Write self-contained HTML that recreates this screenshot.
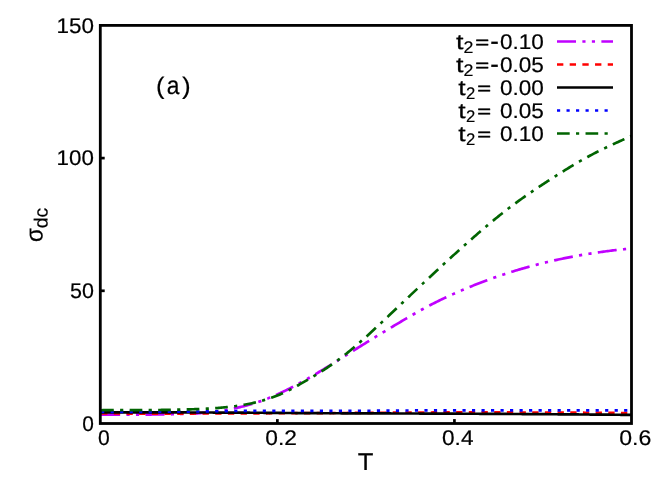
<!DOCTYPE html>
<html><head><meta charset="utf-8"><title>sigma_dc vs T</title>
<style>html,body{margin:0;padding:0;background:#fff;}svg{display:block;}svg text{text-rendering:geometricPrecision;}svg{will-change:transform;opacity:0.9999;}text{font-family:"Liberation Sans",sans-serif;fill:#000;stroke:#000;stroke-width:0.2px;vector-effect:non-scaling-stroke;stroke-linejoin:round;}text.eq{stroke-width:0.55px;}</style></head><body>
<svg width="664" height="498" viewBox="0 0 664 498">
<rect width="664" height="498" fill="#fff"/>
<g fill="none" stroke-width="2.67" stroke-linecap="butt" stroke-linejoin="round" stroke-dashoffset="-0.8">
<path d="M100.30,414.62 L101.63,414.61 L102.96,414.60 L104.29,414.60 L105.63,414.59 L106.96,414.58 L108.29,414.58 L109.62,414.58 L110.95,414.57 L112.28,414.57 L113.61,414.57 L114.94,414.57 L116.28,414.57 L117.61,414.57 L118.94,414.57 L120.27,414.57 L121.60,414.57 L122.93,414.57 L124.26,414.57 L125.60,414.57 L126.93,414.57 L128.26,414.58 L129.59,414.58 L130.92,414.58 L132.25,414.58 L133.58,414.58 L134.91,414.58 L136.25,414.58 L137.58,414.58 L138.91,414.58 L140.24,414.58 L141.57,414.58 L142.90,414.58 L144.23,414.57 L145.57,414.57 L146.90,414.57 L148.23,414.56 L149.56,414.56 L150.89,414.55 L152.22,414.54 L153.55,414.53 L154.88,414.52 L156.22,414.51 L157.55,414.50 L158.88,414.49 L160.21,414.48 L161.54,414.46 L162.87,414.44 L164.20,414.43 L165.54,414.41 L166.87,414.38 L168.20,414.36 L169.53,414.34 L170.86,414.31 L172.19,414.28 L173.52,414.25 L174.85,414.22 L176.19,414.19 L177.52,414.16 L178.85,414.12 L180.18,414.08 L181.51,414.04 L182.84,413.99 L184.17,413.95 L185.51,413.90 L186.84,413.85 L188.17,413.79 L189.50,413.73 L190.83,413.67 L192.16,413.61 L193.49,413.54 L194.82,413.46 L196.16,413.38 L197.49,413.30 L198.82,413.21 L200.15,413.12 L201.48,413.02 L202.81,412.91 L204.14,412.80 L205.47,412.69 L206.81,412.56 L208.14,412.44 L209.47,412.30 L210.80,412.16 L212.13,412.01 L213.46,411.85 L214.79,411.68 L216.13,411.51 L217.46,411.33 L218.79,411.14 L220.12,410.95 L221.45,410.74 L222.78,410.53 L224.11,410.31 L225.44,410.09 L226.78,409.85 L228.11,409.61 L229.44,409.36 L230.77,409.11 L232.10,408.84 L233.43,408.57 L234.76,408.30 L236.10,408.01 L237.43,407.72 L238.76,407.42 L240.09,407.11 L241.42,406.80 L242.75,406.47 L244.08,406.14 L245.41,405.80 L246.75,405.45 L248.08,405.08 L249.41,404.71 L250.74,404.33 L252.07,403.94 L253.40,403.54 L254.73,403.13 L256.07,402.70 L257.40,402.27 L258.73,401.82 L260.06,401.37 L261.39,400.90 L262.72,400.41 L264.05,399.92 L265.38,399.42 L266.72,398.90 L268.05,398.37 L269.38,397.83 L270.71,397.29 L272.04,396.73 L273.37,396.16 L274.70,395.58 L276.04,394.99 L277.37,394.39 L278.70,393.79 L280.03,393.17 L281.36,392.55 L282.69,391.91 L284.02,391.27 L285.35,390.62 L286.69,389.97 L288.02,389.30 L289.35,388.63 L290.68,387.95 L292.01,387.26 L293.34,386.57 L294.67,385.87 L296.01,385.16 L297.34,384.45 L298.67,383.73 L300.00,383.00 L301.33,382.27 L302.66,381.53 L303.99,380.78 L305.32,380.03 L306.66,379.28 L307.99,378.52 L309.32,377.75 L310.65,376.98 L311.98,376.21 L313.31,375.43 L314.64,374.64 L315.98,373.86 L317.31,373.06 L318.64,372.27 L319.97,371.47 L321.30,370.67 L322.63,369.86 L323.96,369.05 L325.29,368.24 L326.63,367.42 L327.96,366.60 L329.29,365.78 L330.62,364.96 L331.95,364.13 L333.28,363.31 L334.61,362.48 L335.95,361.64 L337.28,360.81 L338.61,359.98 L339.94,359.14 L341.27,358.31 L342.60,357.47 L343.93,356.63 L345.26,355.79 L346.60,354.96 L347.93,354.12 L349.26,353.28 L350.59,352.44 L351.92,351.60 L353.25,350.76 L354.58,349.93 L355.92,349.09 L357.25,348.25 L358.58,347.42 L359.91,346.59 L361.24,345.75 L362.57,344.92 L363.90,344.10 L365.23,343.27 L366.57,342.44 L367.90,341.62 L369.23,340.80 L370.56,339.98 L371.89,339.16 L373.22,338.34 L374.55,337.53 L375.88,336.71 L377.22,335.90 L378.55,335.09 L379.88,334.28 L381.21,333.47 L382.54,332.66 L383.87,331.85 L385.20,331.05 L386.54,330.25 L387.87,329.44 L389.20,328.64 L390.53,327.84 L391.86,327.05 L393.19,326.25 L394.52,325.45 L395.85,324.66 L397.19,323.87 L398.52,323.08 L399.85,322.28 L401.18,321.50 L402.51,320.71 L403.84,319.92 L405.17,319.14 L406.51,318.36 L407.84,317.58 L409.17,316.80 L410.50,316.03 L411.83,315.26 L413.16,314.49 L414.49,313.73 L415.82,312.97 L417.16,312.22 L418.49,311.47 L419.82,310.73 L421.15,309.99 L422.48,309.26 L423.81,308.53 L425.14,307.81 L426.48,307.09 L427.81,306.38 L429.14,305.68 L430.47,304.99 L431.80,304.30 L433.13,303.62 L434.46,302.94 L435.79,302.27 L437.13,301.61 L438.46,300.96 L439.79,300.31 L441.12,299.67 L442.45,299.03 L443.78,298.40 L445.11,297.77 L446.45,297.15 L447.78,296.54 L449.11,295.93 L450.44,295.32 L451.77,294.72 L453.10,294.12 L454.43,293.52 L455.76,292.93 L457.10,292.35 L458.43,291.77 L459.76,291.19 L461.09,290.62 L462.42,290.05 L463.75,289.48 L465.08,288.92 L466.42,288.36 L467.75,287.81 L469.08,287.26 L470.41,286.71 L471.74,286.17 L473.07,285.63 L474.40,285.10 L475.73,284.57 L477.07,284.05 L478.40,283.53 L479.73,283.01 L481.06,282.50 L482.39,281.99 L483.72,281.48 L485.05,280.98 L486.39,280.49 L487.72,279.99 L489.05,279.51 L490.38,279.02 L491.71,278.54 L493.04,278.07 L494.37,277.59 L495.70,277.13 L497.04,276.66 L498.37,276.20 L499.70,275.75 L501.03,275.29 L502.36,274.85 L503.69,274.40 L505.02,273.96 L506.36,273.53 L507.69,273.10 L509.02,272.67 L510.35,272.25 L511.68,271.83 L513.01,271.41 L514.34,271.00 L515.67,270.59 L517.01,270.19 L518.34,269.79 L519.67,269.39 L521.00,269.00 L522.33,268.61 L523.66,268.23 L524.99,267.85 L526.33,267.47 L527.66,267.10 L528.99,266.73 L530.32,266.37 L531.65,266.00 L532.98,265.65 L534.31,265.29 L535.64,264.94 L536.98,264.60 L538.31,264.25 L539.64,263.92 L540.97,263.58 L542.30,263.25 L543.63,262.92 L544.96,262.60 L546.29,262.27 L547.63,261.96 L548.96,261.64 L550.29,261.33 L551.62,261.03 L552.95,260.72 L554.28,260.42 L555.61,260.13 L556.95,259.83 L558.28,259.55 L559.61,259.26 L560.94,258.98 L562.27,258.70 L563.60,258.42 L564.93,258.15 L566.26,257.88 L567.60,257.62 L568.93,257.35 L570.26,257.09 L571.59,256.84 L572.92,256.59 L574.25,256.34 L575.58,256.09 L576.92,255.85 L578.25,255.61 L579.58,255.37 L580.91,255.14 L582.24,254.91 L583.57,254.68 L584.90,254.46 L586.23,254.24 L587.57,254.02 L588.90,253.80 L590.23,253.59 L591.56,253.39 L592.89,253.18 L594.22,252.98 L595.55,252.78 L596.89,252.58 L598.22,252.39 L599.55,252.20 L600.88,252.01 L602.21,251.83 L603.54,251.64 L604.87,251.47 L606.20,251.29 L607.54,251.12 L608.87,250.95 L610.20,250.78 L611.53,250.61 L612.86,250.45 L614.19,250.29 L615.52,250.14 L616.86,249.98 L618.19,249.83 L619.52,249.69 L620.85,249.54 L622.18,249.40 L623.51,249.26 L624.84,249.12 L626.17,248.99 L627.51,248.85 L628.84,248.72 L630.17,248.60 L631.50,248.47" stroke="#c000ff" stroke-dasharray="19.020 6.340 3.170 6.340 3.170 6.340"/>
<path d="M100.30,413.50 L101.63,413.50 L102.96,413.50 L104.29,413.51 L105.63,413.51 L106.96,413.51 L108.29,413.51 L109.62,413.52 L110.95,413.52 L112.28,413.52 L113.61,413.52 L114.94,413.52 L116.28,413.52 L117.61,413.53 L118.94,413.53 L120.27,413.53 L121.60,413.53 L122.93,413.53 L124.26,413.53 L125.60,413.53 L126.93,413.54 L128.26,413.54 L129.59,413.54 L130.92,413.54 L132.25,413.54 L133.58,413.54 L134.91,413.54 L136.25,413.54 L137.58,413.54 L138.91,413.54 L140.24,413.54 L141.57,413.54 L142.90,413.54 L144.23,413.55 L145.57,413.55 L146.90,413.55 L148.23,413.55 L149.56,413.55 L150.89,413.55 L152.22,413.55 L153.55,413.55 L154.88,413.55 L156.22,413.55 L157.55,413.55 L158.88,413.55 L160.21,413.55 L161.54,413.55 L162.87,413.55 L164.20,413.55 L165.54,413.55 L166.87,413.55 L168.20,413.55 L169.53,413.55 L170.86,413.55 L172.19,413.55 L173.52,413.55 L174.85,413.55 L176.19,413.55 L177.52,413.55 L178.85,413.55 L180.18,413.55 L181.51,413.55 L182.84,413.55 L184.17,413.55 L185.51,413.55 L186.84,413.55 L188.17,413.55 L189.50,413.54 L190.83,413.54 L192.16,413.54 L193.49,413.54 L194.82,413.53 L196.16,413.53 L197.49,413.53 L198.82,413.53 L200.15,413.52 L201.48,413.52 L202.81,413.52 L204.14,413.51 L205.47,413.51 L206.81,413.50 L208.14,413.50 L209.47,413.50 L210.80,413.49 L212.13,413.49 L213.46,413.48 L214.79,413.48 L216.13,413.47 L217.46,413.47 L218.79,413.46 L220.12,413.46 L221.45,413.45 L222.78,413.45 L224.11,413.44 L225.44,413.44 L226.78,413.43 L228.11,413.43 L229.44,413.42 L230.77,413.42 L232.10,413.41 L233.43,413.41 L234.76,413.40 L236.10,413.40 L237.43,413.39 L238.76,413.39 L240.09,413.38 L241.42,413.38 L242.75,413.37 L244.08,413.37 L245.41,413.37 L246.75,413.36 L248.08,413.36 L249.41,413.35 L250.74,413.35 L252.07,413.34 L253.40,413.34 L254.73,413.33 L256.07,413.33 L257.40,413.33 L258.73,413.32 L260.06,413.32 L261.39,413.31 L262.72,413.31 L264.05,413.30 L265.38,413.30 L266.72,413.30 L268.05,413.29 L269.38,413.29 L270.71,413.28 L272.04,413.28 L273.37,413.27 L274.70,413.27 L276.04,413.26 L277.37,413.26 L278.70,413.26 L280.03,413.25 L281.36,413.25 L282.69,413.24 L284.02,413.24 L285.35,413.23 L286.69,413.23 L288.02,413.22 L289.35,413.22 L290.68,413.21 L292.01,413.21 L293.34,413.20 L294.67,413.20 L296.01,413.19 L297.34,413.19 L298.67,413.18 L300.00,413.18 L301.33,413.17 L302.66,413.17 L303.99,413.16 L305.32,413.16 L306.66,413.15 L307.99,413.15 L309.32,413.14 L310.65,413.14 L311.98,413.13 L313.31,413.13 L314.64,413.12 L315.98,413.12 L317.31,413.11 L318.64,413.11 L319.97,413.10 L321.30,413.09 L322.63,413.09 L323.96,413.08 L325.29,413.08 L326.63,413.07 L327.96,413.06 L329.29,413.06 L330.62,413.05 L331.95,413.04 L333.28,413.04 L334.61,413.03 L335.95,413.02 L337.28,413.02 L338.61,413.01 L339.94,413.00 L341.27,412.99 L342.60,412.99 L343.93,412.98 L345.26,412.97 L346.60,412.96 L347.93,412.95 L349.26,412.95 L350.59,412.94 L351.92,412.93 L353.25,412.92 L354.58,412.91 L355.92,412.90 L357.25,412.90 L358.58,412.89 L359.91,412.88 L361.24,412.87 L362.57,412.86 L363.90,412.85 L365.23,412.84 L366.57,412.83 L367.90,412.83 L369.23,412.82 L370.56,412.81 L371.89,412.80 L373.22,412.79 L374.55,412.78 L375.88,412.77 L377.22,412.76 L378.55,412.75 L379.88,412.75 L381.21,412.74 L382.54,412.73 L383.87,412.72 L385.20,412.71 L386.54,412.70 L387.87,412.69 L389.20,412.68 L390.53,412.67 L391.86,412.67 L393.19,412.66 L394.52,412.65 L395.85,412.64 L397.19,412.63 L398.52,412.62 L399.85,412.62 L401.18,412.61 L402.51,412.60 L403.84,412.59 L405.17,412.58 L406.51,412.58 L407.84,412.57 L409.17,412.56 L410.50,412.55 L411.83,412.55 L413.16,412.54 L414.49,412.53 L415.82,412.53 L417.16,412.52 L418.49,412.51 L419.82,412.51 L421.15,412.50 L422.48,412.49 L423.81,412.49 L425.14,412.48 L426.48,412.48 L427.81,412.47 L429.14,412.47 L430.47,412.46 L431.80,412.46 L433.13,412.45 L434.46,412.45 L435.79,412.44 L437.13,412.44 L438.46,412.43 L439.79,412.43 L441.12,412.43 L442.45,412.42 L443.78,412.42 L445.11,412.42 L446.45,412.41 L447.78,412.41 L449.11,412.41 L450.44,412.41 L451.77,412.41 L453.10,412.40 L454.43,412.40 L455.76,412.40 L457.10,412.40 L458.43,412.40 L459.76,412.40 L461.09,412.40 L462.42,412.40 L463.75,412.40 L465.08,412.40 L466.42,412.40 L467.75,412.40 L469.08,412.40 L470.41,412.40 L471.74,412.40 L473.07,412.40 L474.40,412.40 L475.73,412.40 L477.07,412.41 L478.40,412.41 L479.73,412.41 L481.06,412.41 L482.39,412.41 L483.72,412.41 L485.05,412.41 L486.39,412.41 L487.72,412.41 L489.05,412.42 L490.38,412.42 L491.71,412.42 L493.04,412.42 L494.37,412.42 L495.70,412.42 L497.04,412.43 L498.37,412.43 L499.70,412.43 L501.03,412.43 L502.36,412.43 L503.69,412.43 L505.02,412.44 L506.36,412.44 L507.69,412.44 L509.02,412.44 L510.35,412.44 L511.68,412.45 L513.01,412.45 L514.34,412.45 L515.67,412.45 L517.01,412.46 L518.34,412.46 L519.67,412.46 L521.00,412.46 L522.33,412.47 L523.66,412.47 L524.99,412.47 L526.33,412.47 L527.66,412.48 L528.99,412.48 L530.32,412.48 L531.65,412.48 L532.98,412.49 L534.31,412.49 L535.64,412.49 L536.98,412.49 L538.31,412.50 L539.64,412.50 L540.97,412.50 L542.30,412.51 L543.63,412.51 L544.96,412.51 L546.29,412.52 L547.63,412.52 L548.96,412.52 L550.29,412.53 L551.62,412.53 L552.95,412.54 L554.28,412.54 L555.61,412.55 L556.95,412.55 L558.28,412.56 L559.61,412.56 L560.94,412.57 L562.27,412.58 L563.60,412.58 L564.93,412.59 L566.26,412.60 L567.60,412.60 L568.93,412.61 L570.26,412.62 L571.59,412.63 L572.92,412.63 L574.25,412.64 L575.58,412.65 L576.92,412.66 L578.25,412.67 L579.58,412.67 L580.91,412.68 L582.24,412.69 L583.57,412.70 L584.90,412.71 L586.23,412.72 L587.57,412.73 L588.90,412.74 L590.23,412.75 L591.56,412.76 L592.89,412.77 L594.22,412.78 L595.55,412.79 L596.89,412.80 L598.22,412.81 L599.55,412.82 L600.88,412.83 L602.21,412.84 L603.54,412.85 L604.87,412.86 L606.20,412.87 L607.54,412.89 L608.87,412.90 L610.20,412.91 L611.53,412.92 L612.86,412.93 L614.19,412.94 L615.52,412.95 L616.86,412.97 L618.19,412.98 L619.52,412.99 L620.85,413.00 L622.18,413.01 L623.51,413.03 L624.84,413.04 L626.17,413.05 L627.51,413.06 L628.84,413.08 L630.17,413.09 L631.50,413.10" stroke="#ff0000" stroke-dasharray="6.340 6.340"/>
<path d="M100.30,412.30 L101.63,412.30 L102.96,412.30 L104.29,412.30 L105.63,412.30 L106.96,412.30 L108.29,412.30 L109.62,412.30 L110.95,412.30 L112.28,412.30 L113.61,412.30 L114.94,412.31 L116.28,412.31 L117.61,412.31 L118.94,412.31 L120.27,412.31 L121.60,412.31 L122.93,412.31 L124.26,412.31 L125.60,412.32 L126.93,412.32 L128.26,412.32 L129.59,412.32 L130.92,412.32 L132.25,412.32 L133.58,412.33 L134.91,412.33 L136.25,412.33 L137.58,412.33 L138.91,412.34 L140.24,412.34 L141.57,412.34 L142.90,412.34 L144.23,412.35 L145.57,412.35 L146.90,412.35 L148.23,412.35 L149.56,412.36 L150.89,412.36 L152.22,412.36 L153.55,412.36 L154.88,412.37 L156.22,412.37 L157.55,412.37 L158.88,412.38 L160.21,412.38 L161.54,412.38 L162.87,412.39 L164.20,412.39 L165.54,412.39 L166.87,412.40 L168.20,412.40 L169.53,412.40 L170.86,412.41 L172.19,412.41 L173.52,412.42 L174.85,412.42 L176.19,412.42 L177.52,412.43 L178.85,412.43 L180.18,412.43 L181.51,412.44 L182.84,412.44 L184.17,412.45 L185.51,412.45 L186.84,412.45 L188.17,412.46 L189.50,412.46 L190.83,412.47 L192.16,412.47 L193.49,412.48 L194.82,412.48 L196.16,412.48 L197.49,412.49 L198.82,412.49 L200.15,412.50 L201.48,412.50 L202.81,412.51 L204.14,412.51 L205.47,412.51 L206.81,412.52 L208.14,412.52 L209.47,412.53 L210.80,412.53 L212.13,412.54 L213.46,412.54 L214.79,412.55 L216.13,412.55 L217.46,412.56 L218.79,412.56 L220.12,412.57 L221.45,412.57 L222.78,412.57 L224.11,412.58 L225.44,412.58 L226.78,412.59 L228.11,412.59 L229.44,412.60 L230.77,412.60 L232.10,412.61 L233.43,412.61 L234.76,412.62 L236.10,412.62 L237.43,412.63 L238.76,412.64 L240.09,412.64 L241.42,412.65 L242.75,412.66 L244.08,412.67 L245.41,412.67 L246.75,412.68 L248.08,412.69 L249.41,412.70 L250.74,412.71 L252.07,412.72 L253.40,412.72 L254.73,412.73 L256.07,412.74 L257.40,412.75 L258.73,412.76 L260.06,412.77 L261.39,412.78 L262.72,412.79 L264.05,412.80 L265.38,412.81 L266.72,412.82 L268.05,412.83 L269.38,412.84 L270.71,412.85 L272.04,412.86 L273.37,412.87 L274.70,412.88 L276.04,412.89 L277.37,412.91 L278.70,412.92 L280.03,412.93 L281.36,412.94 L282.69,412.95 L284.02,412.96 L285.35,412.97 L286.69,412.98 L288.02,412.99 L289.35,413.00 L290.68,413.01 L292.01,413.02 L293.34,413.03 L294.67,413.04 L296.01,413.05 L297.34,413.06 L298.67,413.07 L300.00,413.08 L301.33,413.09 L302.66,413.10 L303.99,413.11 L305.32,413.12 L306.66,413.12 L307.99,413.13 L309.32,413.14 L310.65,413.15 L311.98,413.16 L313.31,413.16 L314.64,413.17 L315.98,413.18 L317.31,413.19 L318.64,413.19 L319.97,413.20 L321.30,413.21 L322.63,413.21 L323.96,413.22 L325.29,413.22 L326.63,413.23 L327.96,413.24 L329.29,413.24 L330.62,413.25 L331.95,413.25 L333.28,413.26 L334.61,413.26 L335.95,413.27 L337.28,413.28 L338.61,413.28 L339.94,413.29 L341.27,413.29 L342.60,413.30 L343.93,413.30 L345.26,413.31 L346.60,413.31 L347.93,413.32 L349.26,413.32 L350.59,413.33 L351.92,413.33 L353.25,413.33 L354.58,413.34 L355.92,413.34 L357.25,413.35 L358.58,413.35 L359.91,413.36 L361.24,413.36 L362.57,413.37 L363.90,413.37 L365.23,413.38 L366.57,413.38 L367.90,413.38 L369.23,413.39 L370.56,413.39 L371.89,413.40 L373.22,413.40 L374.55,413.40 L375.88,413.41 L377.22,413.41 L378.55,413.42 L379.88,413.42 L381.21,413.42 L382.54,413.43 L383.87,413.43 L385.20,413.44 L386.54,413.44 L387.87,413.44 L389.20,413.45 L390.53,413.45 L391.86,413.46 L393.19,413.46 L394.52,413.46 L395.85,413.47 L397.19,413.47 L398.52,413.48 L399.85,413.48 L401.18,413.49 L402.51,413.49 L403.84,413.49 L405.17,413.50 L406.51,413.50 L407.84,413.51 L409.17,413.51 L410.50,413.51 L411.83,413.52 L413.16,413.52 L414.49,413.53 L415.82,413.53 L417.16,413.53 L418.49,413.54 L419.82,413.54 L421.15,413.55 L422.48,413.55 L423.81,413.56 L425.14,413.56 L426.48,413.57 L427.81,413.57 L429.14,413.58 L430.47,413.58 L431.80,413.58 L433.13,413.59 L434.46,413.59 L435.79,413.60 L437.13,413.60 L438.46,413.61 L439.79,413.61 L441.12,413.62 L442.45,413.62 L443.78,413.63 L445.11,413.64 L446.45,413.64 L447.78,413.65 L449.11,413.65 L450.44,413.66 L451.77,413.66 L453.10,413.67 L454.43,413.67 L455.76,413.68 L457.10,413.69 L458.43,413.69 L459.76,413.70 L461.09,413.71 L462.42,413.71 L463.75,413.72 L465.08,413.72 L466.42,413.73 L467.75,413.74 L469.08,413.74 L470.41,413.75 L471.74,413.76 L473.07,413.76 L474.40,413.77 L475.73,413.78 L477.07,413.78 L478.40,413.79 L479.73,413.80 L481.06,413.81 L482.39,413.81 L483.72,413.82 L485.05,413.83 L486.39,413.83 L487.72,413.84 L489.05,413.85 L490.38,413.86 L491.71,413.86 L493.04,413.87 L494.37,413.88 L495.70,413.89 L497.04,413.89 L498.37,413.90 L499.70,413.91 L501.03,413.92 L502.36,413.93 L503.69,413.93 L505.02,413.94 L506.36,413.95 L507.69,413.96 L509.02,413.97 L510.35,413.97 L511.68,413.98 L513.01,413.99 L514.34,414.00 L515.67,414.01 L517.01,414.02 L518.34,414.02 L519.67,414.03 L521.00,414.04 L522.33,414.05 L523.66,414.06 L524.99,414.07 L526.33,414.08 L527.66,414.09 L528.99,414.09 L530.32,414.10 L531.65,414.11 L532.98,414.12 L534.31,414.13 L535.64,414.14 L536.98,414.15 L538.31,414.16 L539.64,414.17 L540.97,414.18 L542.30,414.19 L543.63,414.19 L544.96,414.20 L546.29,414.21 L547.63,414.22 L548.96,414.23 L550.29,414.24 L551.62,414.25 L552.95,414.26 L554.28,414.27 L555.61,414.28 L556.95,414.29 L558.28,414.30 L559.61,414.31 L560.94,414.32 L562.27,414.33 L563.60,414.34 L564.93,414.35 L566.26,414.36 L567.60,414.37 L568.93,414.38 L570.26,414.39 L571.59,414.40 L572.92,414.41 L574.25,414.42 L575.58,414.43 L576.92,414.44 L578.25,414.45 L579.58,414.46 L580.91,414.47 L582.24,414.48 L583.57,414.50 L584.90,414.51 L586.23,414.52 L587.57,414.53 L588.90,414.54 L590.23,414.55 L591.56,414.56 L592.89,414.57 L594.22,414.58 L595.55,414.59 L596.89,414.60 L598.22,414.61 L599.55,414.63 L600.88,414.64 L602.21,414.65 L603.54,414.66 L604.87,414.67 L606.20,414.68 L607.54,414.69 L608.87,414.70 L610.20,414.71 L611.53,414.73 L612.86,414.74 L614.19,414.75 L615.52,414.76 L616.86,414.77 L618.19,414.78 L619.52,414.79 L620.85,414.81 L622.18,414.82 L623.51,414.83 L624.84,414.84 L626.17,414.85 L627.51,414.86 L628.84,414.88 L630.17,414.89 L631.50,414.90" stroke="#000000"/>
<path d="M100.30,411.90 L101.63,411.90 L102.96,411.90 L104.29,411.90 L105.63,411.90 L106.96,411.90 L108.29,411.90 L109.62,411.90 L110.95,411.89 L112.28,411.89 L113.61,411.89 L114.94,411.89 L116.28,411.89 L117.61,411.89 L118.94,411.88 L120.27,411.88 L121.60,411.88 L122.93,411.88 L124.26,411.87 L125.60,411.87 L126.93,411.87 L128.26,411.86 L129.59,411.86 L130.92,411.86 L132.25,411.85 L133.58,411.85 L134.91,411.85 L136.25,411.84 L137.58,411.84 L138.91,411.84 L140.24,411.83 L141.57,411.83 L142.90,411.82 L144.23,411.82 L145.57,411.81 L146.90,411.81 L148.23,411.81 L149.56,411.80 L150.89,411.80 L152.22,411.79 L153.55,411.79 L154.88,411.78 L156.22,411.78 L157.55,411.77 L158.88,411.77 L160.21,411.76 L161.54,411.76 L162.87,411.75 L164.20,411.75 L165.54,411.74 L166.87,411.73 L168.20,411.73 L169.53,411.72 L170.86,411.72 L172.19,411.71 L173.52,411.71 L174.85,411.70 L176.19,411.69 L177.52,411.69 L178.85,411.68 L180.18,411.67 L181.51,411.66 L182.84,411.65 L184.17,411.64 L185.51,411.62 L186.84,411.61 L188.17,411.60 L189.50,411.58 L190.83,411.57 L192.16,411.55 L193.49,411.53 L194.82,411.52 L196.16,411.50 L197.49,411.48 L198.82,411.46 L200.15,411.44 L201.48,411.42 L202.81,411.40 L204.14,411.38 L205.47,411.37 L206.81,411.35 L208.14,411.33 L209.47,411.31 L210.80,411.29 L212.13,411.27 L213.46,411.25 L214.79,411.23 L216.13,411.21 L217.46,411.19 L218.79,411.17 L220.12,411.15 L221.45,411.13 L222.78,411.11 L224.11,411.10 L225.44,411.08 L226.78,411.06 L228.11,411.05 L229.44,411.03 L230.77,411.02 L232.10,411.00 L233.43,410.99 L234.76,410.98 L236.10,410.96 L237.43,410.95 L238.76,410.94 L240.09,410.93 L241.42,410.93 L242.75,410.92 L244.08,410.91 L245.41,410.91 L246.75,410.90 L248.08,410.90 L249.41,410.90 L250.74,410.90 L252.07,410.90 L253.40,410.90 L254.73,410.90 L256.07,410.90 L257.40,410.90 L258.73,410.90 L260.06,410.90 L261.39,410.90 L262.72,410.90 L264.05,410.90 L265.38,410.90 L266.72,410.90 L268.05,410.90 L269.38,410.90 L270.71,410.90 L272.04,410.90 L273.37,410.90 L274.70,410.90 L276.04,410.90 L277.37,410.90 L278.70,410.90 L280.03,410.90 L281.36,410.90 L282.69,410.90 L284.02,410.90 L285.35,410.90 L286.69,410.90 L288.02,410.90 L289.35,410.90 L290.68,410.90 L292.01,410.90 L293.34,410.90 L294.67,410.90 L296.01,410.90 L297.34,410.90 L298.67,410.90 L300.00,410.90 L301.33,410.90 L302.66,410.90 L303.99,410.90 L305.32,410.90 L306.66,410.90 L307.99,410.90 L309.32,410.90 L310.65,410.90 L311.98,410.90 L313.31,410.90 L314.64,410.90 L315.98,410.90 L317.31,410.90 L318.64,410.90 L319.97,410.90 L321.30,410.90 L322.63,410.90 L323.96,410.90 L325.29,410.90 L326.63,410.90 L327.96,410.89 L329.29,410.89 L330.62,410.89 L331.95,410.89 L333.28,410.88 L334.61,410.88 L335.95,410.88 L337.28,410.87 L338.61,410.87 L339.94,410.87 L341.27,410.86 L342.60,410.86 L343.93,410.85 L345.26,410.85 L346.60,410.84 L347.93,410.84 L349.26,410.83 L350.59,410.83 L351.92,410.82 L353.25,410.81 L354.58,410.81 L355.92,410.80 L357.25,410.80 L358.58,410.79 L359.91,410.78 L361.24,410.77 L362.57,410.77 L363.90,410.76 L365.23,410.75 L366.57,410.75 L367.90,410.74 L369.23,410.73 L370.56,410.72 L371.89,410.71 L373.22,410.71 L374.55,410.70 L375.88,410.69 L377.22,410.68 L378.55,410.67 L379.88,410.66 L381.21,410.66 L382.54,410.65 L383.87,410.64 L385.20,410.63 L386.54,410.62 L387.87,410.61 L389.20,410.61 L390.53,410.60 L391.86,410.59 L393.19,410.58 L394.52,410.57 L395.85,410.56 L397.19,410.55 L398.52,410.55 L399.85,410.54 L401.18,410.53 L402.51,410.52 L403.84,410.51 L405.17,410.50 L406.51,410.50 L407.84,410.49 L409.17,410.48 L410.50,410.47 L411.83,410.46 L413.16,410.46 L414.49,410.45 L415.82,410.44 L417.16,410.43 L418.49,410.43 L419.82,410.42 L421.15,410.41 L422.48,410.41 L423.81,410.40 L425.14,410.39 L426.48,410.39 L427.81,410.38 L429.14,410.37 L430.47,410.37 L431.80,410.36 L433.13,410.36 L434.46,410.35 L435.79,410.35 L437.13,410.34 L438.46,410.34 L439.79,410.33 L441.12,410.33 L442.45,410.33 L443.78,410.32 L445.11,410.32 L446.45,410.32 L447.78,410.31 L449.11,410.31 L450.44,410.31 L451.77,410.31 L453.10,410.30 L454.43,410.30 L455.76,410.30 L457.10,410.30 L458.43,410.30 L459.76,410.30 L461.09,410.30 L462.42,410.30 L463.75,410.30 L465.08,410.30 L466.42,410.30 L467.75,410.30 L469.08,410.30 L470.41,410.30 L471.74,410.30 L473.07,410.30 L474.40,410.30 L475.73,410.30 L477.07,410.30 L478.40,410.30 L479.73,410.30 L481.06,410.30 L482.39,410.30 L483.72,410.30 L485.05,410.30 L486.39,410.30 L487.72,410.30 L489.05,410.30 L490.38,410.30 L491.71,410.30 L493.04,410.30 L494.37,410.30 L495.70,410.30 L497.04,410.30 L498.37,410.30 L499.70,410.30 L501.03,410.30 L502.36,410.30 L503.69,410.30 L505.02,410.30 L506.36,410.30 L507.69,410.30 L509.02,410.30 L510.35,410.30 L511.68,410.30 L513.01,410.30 L514.34,410.30 L515.67,410.30 L517.01,410.30 L518.34,410.30 L519.67,410.30 L521.00,410.30 L522.33,410.30 L523.66,410.30 L524.99,410.30 L526.33,410.30 L527.66,410.30 L528.99,410.30 L530.32,410.30 L531.65,410.30 L532.98,410.30 L534.31,410.30 L535.64,410.30 L536.98,410.30 L538.31,410.30 L539.64,410.30 L540.97,410.30 L542.30,410.30 L543.63,410.30 L544.96,410.30 L546.29,410.30 L547.63,410.30 L548.96,410.30 L550.29,410.30 L551.62,410.30 L552.95,410.30 L554.28,410.30 L555.61,410.30 L556.95,410.30 L558.28,410.30 L559.61,410.30 L560.94,410.30 L562.27,410.30 L563.60,410.30 L564.93,410.30 L566.26,410.30 L567.60,410.30 L568.93,410.30 L570.26,410.30 L571.59,410.30 L572.92,410.30 L574.25,410.30 L575.58,410.30 L576.92,410.30 L578.25,410.30 L579.58,410.30 L580.91,410.30 L582.24,410.30 L583.57,410.30 L584.90,410.30 L586.23,410.30 L587.57,410.30 L588.90,410.30 L590.23,410.30 L591.56,410.30 L592.89,410.30 L594.22,410.30 L595.55,410.30 L596.89,410.30 L598.22,410.30 L599.55,410.30 L600.88,410.30 L602.21,410.30 L603.54,410.30 L604.87,410.30 L606.20,410.30 L607.54,410.30 L608.87,410.30 L610.20,410.30 L611.53,410.30 L612.86,410.30 L614.19,410.30 L615.52,410.30 L616.86,410.30 L618.19,410.30 L619.52,410.30 L620.85,410.30 L622.18,410.30 L623.51,410.30 L624.84,410.30 L626.17,410.30 L627.51,410.30 L628.84,410.30 L630.17,410.30 L631.50,410.30" stroke="#0000ff" stroke-dasharray="3.170 6.340"/>
<path d="M100.30,410.22 L101.63,410.21 L102.96,410.20 L104.29,410.20 L105.63,410.20 L106.96,410.19 L108.29,410.19 L109.62,410.18 L110.95,410.18 L112.28,410.18 L113.61,410.17 L114.94,410.17 L116.28,410.17 L117.61,410.17 L118.94,410.16 L120.27,410.16 L121.60,410.16 L122.93,410.16 L124.26,410.15 L125.60,410.15 L126.93,410.15 L128.26,410.15 L129.59,410.14 L130.92,410.14 L132.25,410.14 L133.58,410.13 L134.91,410.13 L136.25,410.12 L137.58,410.12 L138.91,410.11 L140.24,410.11 L141.57,410.10 L142.90,410.10 L144.23,410.09 L145.57,410.08 L146.90,410.08 L148.23,410.07 L149.56,410.06 L150.89,410.05 L152.22,410.04 L153.55,410.03 L154.88,410.02 L156.22,410.00 L157.55,409.99 L158.88,409.98 L160.21,409.96 L161.54,409.95 L162.87,409.93 L164.20,409.91 L165.54,409.89 L166.87,409.87 L168.20,409.85 L169.53,409.83 L170.86,409.81 L172.19,409.78 L173.52,409.76 L174.85,409.73 L176.19,409.71 L177.52,409.68 L178.85,409.65 L180.18,409.62 L181.51,409.58 L182.84,409.55 L184.17,409.52 L185.51,409.48 L186.84,409.44 L188.17,409.40 L189.50,409.36 L190.83,409.32 L192.16,409.27 L193.49,409.23 L194.82,409.18 L196.16,409.13 L197.49,409.08 L198.82,409.03 L200.15,408.98 L201.48,408.92 L202.81,408.86 L204.14,408.80 L205.47,408.73 L206.81,408.66 L208.14,408.59 L209.47,408.52 L210.80,408.44 L212.13,408.36 L213.46,408.27 L214.79,408.18 L216.13,408.08 L217.46,407.98 L218.79,407.88 L220.12,407.77 L221.45,407.66 L222.78,407.54 L224.11,407.41 L225.44,407.28 L226.78,407.15 L228.11,407.00 L229.44,406.85 L230.77,406.70 L232.10,406.54 L233.43,406.37 L234.76,406.20 L236.10,406.01 L237.43,405.82 L238.76,405.63 L240.09,405.42 L241.42,405.21 L242.75,404.99 L244.08,404.76 L245.41,404.52 L246.75,404.27 L248.08,404.02 L249.41,403.75 L250.74,403.47 L252.07,403.19 L253.40,402.89 L254.73,402.58 L256.07,402.27 L257.40,401.94 L258.73,401.60 L260.06,401.25 L261.39,400.88 L262.72,400.51 L264.05,400.12 L265.38,399.72 L266.72,399.31 L268.05,398.88 L269.38,398.44 L270.71,397.99 L272.04,397.52 L273.37,397.04 L274.70,396.55 L276.04,396.03 L277.37,395.51 L278.70,394.97 L280.03,394.41 L281.36,393.83 L282.69,393.24 L284.02,392.63 L285.35,392.01 L286.69,391.36 L288.02,390.70 L289.35,390.03 L290.68,389.34 L292.01,388.63 L293.34,387.92 L294.67,387.19 L296.01,386.46 L297.34,385.72 L298.67,384.97 L300.00,384.21 L301.33,383.45 L302.66,382.68 L303.99,381.92 L305.32,381.14 L306.66,380.37 L307.99,379.59 L309.32,378.81 L310.65,378.02 L311.98,377.22 L313.31,376.42 L314.64,375.62 L315.98,374.80 L317.31,373.98 L318.64,373.16 L319.97,372.32 L321.30,371.48 L322.63,370.63 L323.96,369.77 L325.29,368.90 L326.63,368.02 L327.96,367.13 L329.29,366.23 L330.62,365.32 L331.95,364.39 L333.28,363.46 L334.61,362.52 L335.95,361.56 L337.28,360.59 L338.61,359.60 L339.94,358.61 L341.27,357.60 L342.60,356.57 L343.93,355.54 L345.26,354.49 L346.60,353.43 L347.93,352.36 L349.26,351.28 L350.59,350.19 L351.92,349.09 L353.25,347.98 L354.58,346.85 L355.92,345.72 L357.25,344.58 L358.58,343.43 L359.91,342.28 L361.24,341.11 L362.57,339.94 L363.90,338.76 L365.23,337.57 L366.57,336.38 L367.90,335.18 L369.23,333.97 L370.56,332.75 L371.89,331.54 L373.22,330.31 L374.55,329.08 L375.88,327.85 L377.22,326.61 L378.55,325.37 L379.88,324.13 L381.21,322.88 L382.54,321.63 L383.87,320.37 L385.20,319.12 L386.54,317.86 L387.87,316.60 L389.20,315.33 L390.53,314.07 L391.86,312.81 L393.19,311.55 L394.52,310.28 L395.85,309.02 L397.19,307.75 L398.52,306.49 L399.85,305.23 L401.18,303.97 L402.51,302.71 L403.84,301.44 L405.17,300.18 L406.51,298.92 L407.84,297.67 L409.17,296.41 L410.50,295.15 L411.83,293.89 L413.16,292.64 L414.49,291.38 L415.82,290.13 L417.16,288.88 L418.49,287.62 L419.82,286.37 L421.15,285.12 L422.48,283.88 L423.81,282.63 L425.14,281.38 L426.48,280.14 L427.81,278.89 L429.14,277.65 L430.47,276.41 L431.80,275.17 L433.13,273.93 L434.46,272.70 L435.79,271.46 L437.13,270.23 L438.46,269.00 L439.79,267.77 L441.12,266.54 L442.45,265.32 L443.78,264.09 L445.11,262.87 L446.45,261.65 L447.78,260.43 L449.11,259.22 L450.44,258.00 L451.77,256.79 L453.10,255.58 L454.43,254.37 L455.76,253.17 L457.10,251.97 L458.43,250.76 L459.76,249.57 L461.09,248.37 L462.42,247.18 L463.75,245.99 L465.08,244.80 L466.42,243.61 L467.75,242.43 L469.08,241.25 L470.41,240.07 L471.74,238.90 L473.07,237.73 L474.40,236.56 L475.73,235.40 L477.07,234.24 L478.40,233.08 L479.73,231.93 L481.06,230.79 L482.39,229.64 L483.72,228.51 L485.05,227.37 L486.39,226.25 L487.72,225.13 L489.05,224.01 L490.38,222.90 L491.71,221.79 L493.04,220.69 L494.37,219.60 L495.70,218.51 L497.04,217.43 L498.37,216.36 L499.70,215.29 L501.03,214.23 L502.36,213.18 L503.69,212.13 L505.02,211.09 L506.36,210.06 L507.69,209.04 L509.02,208.03 L510.35,207.02 L511.68,206.02 L513.01,205.03 L514.34,204.04 L515.67,203.07 L517.01,202.10 L518.34,201.14 L519.67,200.18 L521.00,199.23 L522.33,198.28 L523.66,197.35 L524.99,196.41 L526.33,195.49 L527.66,194.57 L528.99,193.65 L530.32,192.74 L531.65,191.83 L532.98,190.93 L534.31,190.03 L535.64,189.13 L536.98,188.24 L538.31,187.35 L539.64,186.47 L540.97,185.58 L542.30,184.70 L543.63,183.83 L544.96,182.95 L546.29,182.08 L547.63,181.21 L548.96,180.34 L550.29,179.48 L551.62,178.62 L552.95,177.76 L554.28,176.90 L555.61,176.05 L556.95,175.20 L558.28,174.36 L559.61,173.51 L560.94,172.68 L562.27,171.84 L563.60,171.01 L564.93,170.19 L566.26,169.37 L567.60,168.55 L568.93,167.74 L570.26,166.93 L571.59,166.13 L572.92,165.34 L574.25,164.55 L575.58,163.76 L576.92,162.98 L578.25,162.21 L579.58,161.44 L580.91,160.68 L582.24,159.92 L583.57,159.17 L584.90,158.43 L586.23,157.69 L587.57,156.96 L588.90,156.24 L590.23,155.52 L591.56,154.82 L592.89,154.12 L594.22,153.42 L595.55,152.74 L596.89,152.06 L598.22,151.39 L599.55,150.72 L600.88,150.06 L602.21,149.41 L603.54,148.76 L604.87,148.11 L606.20,147.48 L607.54,146.84 L608.87,146.21 L610.20,145.59 L611.53,144.97 L612.86,144.35 L614.19,143.74 L615.52,143.13 L616.86,142.52 L618.19,141.92 L619.52,141.31 L620.85,140.71 L622.18,140.11 L623.51,139.52 L624.84,138.92 L626.17,138.32 L627.51,137.73 L628.84,137.14 L630.17,136.54 L631.50,135.95" stroke="#006400" stroke-dasharray="12.680 6.340 3.170 6.340"/>
</g>
<g fill="none" stroke-width="2.67">
<path d="M557.0,41.5 L613.0,41.5" stroke="#c000ff" stroke-dasharray="19.020 6.340 3.170 6.340 3.170 6.340"/>
<path d="M557.0,64.5 L613.0,64.5" stroke="#ff0000" stroke-dasharray="6.340 6.340"/>
<path d="M557.0,87.5 L613.0,87.5" stroke="#000000"/>
<path d="M557.0,110.5 L613.0,110.5" stroke="#0000ff" stroke-dasharray="3.170 6.340"/>
<path d="M557.0,133.5 L613.0,133.5" stroke="#006400" stroke-dasharray="12.680 6.340 3.170 6.340"/>
</g>
<rect x="100.3" y="25.4" width="531.20" height="398.10" fill="none" stroke="#000" stroke-width="2.8"/>
<g stroke="#000" stroke-width="2.7" fill="none">
<path d="M277.37,423.5 v-4.4"/>
<path d="M100.3,290.80 h4.4"/>
<path d="M454.43,423.5 v-4.4"/>
<path d="M100.3,158.10 h4.4"/>
</g>
<g>
<text transform="translate(56.39,33.00) scale(1.0603,1.0000)" font-size="21.19">150</text>
<text transform="translate(56.60,165.00) scale(1.0542,1.0000)" font-size="21.19">100</text>
<text transform="translate(69.94,298.30) scale(1.0139,1.0000)" font-size="21.19">50</text>
<text transform="translate(82.18,431.00) scale(0.9871,1.0000)" font-size="21.19">0</text>
<text transform="translate(98.07,444.70) scale(0.9970,1.0000)" font-size="21.19">0</text>
<text transform="translate(265.31,444.70) scale(1.0738,1.0000)" font-size="21.19">0.2</text>
<text transform="translate(442.02,444.70) scale(1.0674,1.0000)" font-size="21.19">0.4</text>
<text transform="translate(619.20,444.70) scale(1.0902,1.0000)" font-size="21.19">0.6</text>
</g>
<text transform="translate(357.72,469.60) scale(1.0565,1.0000)" font-size="24.27">T</text>
<text transform="translate(156.11,93.60) scale(1.0111,0.9521)" font-size="25.36">(</text>
<text transform="translate(166.63,93.75) scale(0.8980,1.0075)" font-size="25.36">a</text>
<text transform="translate(181.95,93.60) scale(1.0260,0.9521)" font-size="25.36">)</text>
<text transform="translate(42.50,241.94) rotate(-89.9) scale(0.9223,1)" font-size="24.20">σ</text>
<text transform="translate(47.50,228.21) rotate(-89.9) scale(1.0151,1)" font-size="19.05">dc</text>
<text transform="translate(455.89,49.00) scale(1.2750,1.0000)" font-size="21.19">t</text>
<text transform="translate(463.61,53.10) scale(1.0488,1.0000)" font-size="16.95">2</text>
<text transform="translate(475.13,48.29) scale(1.1267,0.7980)" font-size="21.19" class="eq">=</text>
<text transform="translate(490.25,49.59) scale(1.2177,1.2684)" font-size="21.19">-</text>
<text transform="translate(499.92,49.00) scale(1.0659,1.0000)" font-size="21.19">0.10</text>
<text transform="translate(455.89,72.00) scale(1.2750,1.0000)" font-size="21.19">t</text>
<text transform="translate(463.61,76.10) scale(1.0488,1.0000)" font-size="16.95">2</text>
<text transform="translate(475.13,71.29) scale(1.1267,0.7980)" font-size="21.19" class="eq">=</text>
<text transform="translate(490.25,72.59) scale(1.2177,1.2684)" font-size="21.19">-</text>
<text transform="translate(499.92,72.00) scale(1.0676,1.0000)" font-size="21.19">0.05</text>
<text transform="translate(458.20,95.00) scale(1.2565,1.0000)" font-size="21.19">t</text>
<text transform="translate(466.06,99.10) scale(0.9840,1.0000)" font-size="16.95">2</text>
<text transform="translate(477.24,94.29) scale(1.1170,0.7980)" font-size="21.19" class="eq">=</text>
<text transform="translate(499.92,95.00) scale(1.0659,1.0000)" font-size="21.19">0.00</text>
<text transform="translate(458.20,118.00) scale(1.2565,1.0000)" font-size="21.19">t</text>
<text transform="translate(466.06,122.10) scale(0.9840,1.0000)" font-size="16.95">2</text>
<text transform="translate(477.24,117.29) scale(1.1170,0.7980)" font-size="21.19" class="eq">=</text>
<text transform="translate(499.92,118.00) scale(1.0676,1.0000)" font-size="21.19">0.05</text>
<text transform="translate(458.20,141.00) scale(1.2565,1.0000)" font-size="21.19">t</text>
<text transform="translate(466.06,145.10) scale(0.9840,1.0000)" font-size="16.95">2</text>
<text transform="translate(477.24,140.29) scale(1.1170,0.7980)" font-size="21.19" class="eq">=</text>
<text transform="translate(499.92,141.00) scale(1.0659,1.0000)" font-size="21.19">0.10</text>
</svg></body></html>
